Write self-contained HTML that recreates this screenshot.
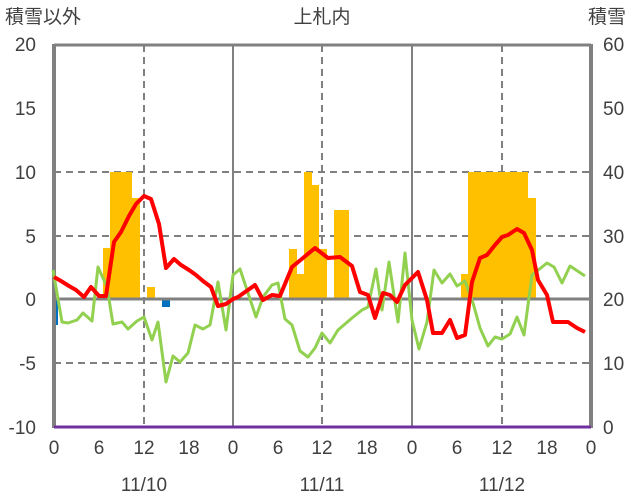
<!DOCTYPE html>
<html><head><meta charset="utf-8"><style>
html,body{margin:0;padding:0;background:#fff;}
svg{display:block;}
text{font-family:"Liberation Sans","Noto Sans CJK JP",sans-serif;font-size:19px;fill:#404040;}
</style></head><body>
<svg width="636" height="501" viewBox="0 0 636 501">
<!-- grid -->
<g stroke="#808080" stroke-width="2" stroke-dasharray="7,5" fill="none">
<line x1="54" y1="45" x2="591" y2="45"/>
<line x1="54" y1="172" x2="591" y2="172"/>
<line x1="54" y1="236" x2="591" y2="236"/>
<line x1="54" y1="363" x2="591" y2="363"/>
<line x1="144" y1="45" x2="144" y2="427"/>
<line x1="322" y1="45" x2="322" y2="427"/>
<line x1="502" y1="45" x2="502" y2="427"/>
</g>
<!-- bars -->
<g fill="#FFC000">
<rect x="103" y="248" width="7" height="51"/>
<rect x="110" y="172" width="22" height="127"/>
<rect x="132" y="198" width="8" height="101"/>
<rect x="147" y="287" width="8" height="12"/>
<rect x="289" y="249" width="8" height="50"/>
<rect x="297" y="274" width="7" height="25"/>
<rect x="304" y="172" width="8" height="127"/>
<rect x="312" y="185" width="7" height="114"/>
<rect x="319" y="249" width="8" height="50"/>
<rect x="334" y="210" width="15" height="89"/>
<rect x="461" y="274" width="7" height="25"/>
<rect x="468" y="172" width="60" height="127"/>
<rect x="528" y="198" width="8" height="101"/>
</g>
<g fill="#0070C0">
<rect x="54" y="299" width="4" height="26"/>
<rect x="162" y="299" width="8" height="8"/>
</g>
<!-- axes frame -->
<g stroke="#808080" fill="none">
<line x1="54" y1="299" x2="591" y2="299" stroke-width="3"/>
<line x1="233" y1="45" x2="233" y2="427" stroke-width="2"/>
<line x1="412" y1="45" x2="412" y2="427" stroke-width="2"/>
<line x1="54" y1="45" x2="591" y2="45" stroke-width="3"/>
<line x1="54" y1="44" x2="54" y2="428" stroke-width="4"/>
<line x1="591" y1="44" x2="591" y2="428" stroke-width="4"/>
</g>
<line x1="54" y1="427" x2="591" y2="427" stroke="#7030A0" stroke-width="3"/>
<!-- green -->
<polyline fill="none" stroke="#92D050" stroke-width="3" stroke-linejoin="round" points="53,270 62,322 68,323 77,320 83,313 92,321 98,267 107,287 113,324 122,322 128,329 137,321 144,317 152,340 158,322 166,382 173,356 180,362 188,353 195,325 203,329 210,325 218,282 226,330 233,275 240,269 248,293 256,317 263,297 272,285 278,283 285,319 292,325 300,351 308,357 315,348 322,333 330,343 338,330 352,318 362,310 368,307 376,269 382,310 389,262 398,322 405,253 412,320 419,349 427,322 434,270 442,283 450,274 457,286 465,281 473,303 480,328 488,346 495,337 502,339 510,334 517,317 524,335 532,275 547,263 554,267 562,283 570,266 585,276"/>
<!-- red -->
<polyline fill="none" stroke="#FF0000" stroke-width="4" stroke-linejoin="round" points="54,277 61,281 69,286 76,290 84,297 91,287 99,296 106,296 114,242 121,232 129,216 136,204 144,196 151,199 159,224 166,268 174,259 181,265 189,270 196,275 203,281 211,287 218,306 226,304 233,299 238,297 255,285 263,300 272,295 280,296 292,267 303,258 315,248 328,258 340,257 352,266 360,292 368,295 375,318 383,293 390,295 397,302 405,285 418,272 427,300 433,333 442,333 450,320 457,338 465,335 472,282 480,258 487,255 495,245 502,237 508,235 517,229 524,233 532,250 538,280 547,295 553,322 568,322 577,328 585,332"/>
<!-- labels -->
<text x="5" y="23">積雪以外</text>
<text x="588" y="23">積雪</text>
<text x="322" y="23" text-anchor="middle">上札内</text>
<g text-anchor="end">
<text x="36" y="51">20</text><text x="36" y="115">15</text><text x="36" y="179">10</text>
<text x="36" y="243">5</text><text x="36" y="306">0</text><text x="36" y="370">-5</text><text x="36" y="434">-10</text>
</g>
<g text-anchor="start">
<text x="603" y="51">60</text><text x="603" y="115">50</text><text x="603" y="179">40</text>
<text x="603" y="243">30</text><text x="603" y="306">20</text><text x="603" y="370">10</text><text x="603" y="434">0</text>
</g>
<g text-anchor="middle">
<text x="54" y="454">0</text><text x="99" y="454">6</text><text x="144" y="454">12</text><text x="189" y="454">18</text>
<text x="233" y="454">0</text><text x="278" y="454">6</text><text x="322" y="454">12</text><text x="367" y="454">18</text>
<text x="412" y="454">0</text><text x="457" y="454">6</text><text x="502" y="454">12</text><text x="547" y="454">18</text>
<text x="591" y="454">0</text>
<text x="144" y="491">11/10</text><text x="322" y="491">11/11</text><text x="502" y="491">11/12</text>
</g>
</svg>
</body></html>
